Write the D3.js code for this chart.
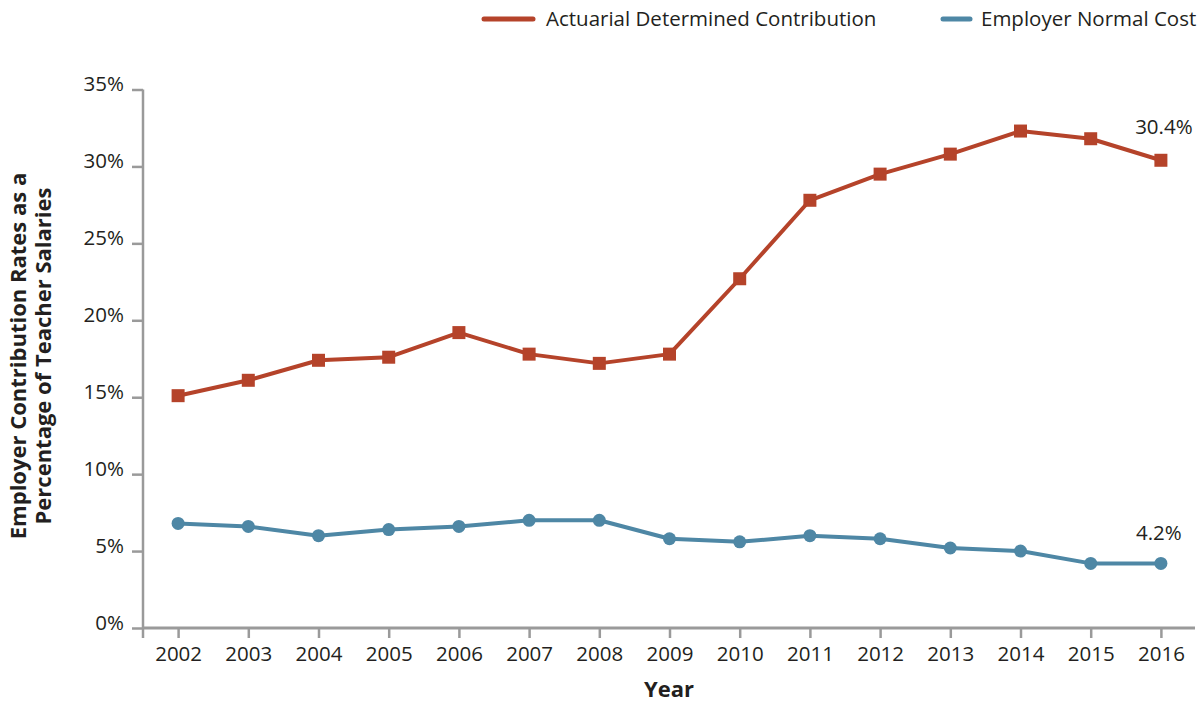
<!DOCTYPE html>
<html>
<head>
<meta charset="utf-8">
<script src="https://cdn.jsdelivr.net/npm/d3@7"></script>
<style>
  html, body { margin: 0; padding: 0; background: #fff; }
  svg { display: block; font-family: "Open Sans", "Noto Sans", sans-serif; }
</style>
</head>
<body>
<svg id="chart" width="1204" height="702"></svg>
<script>
// Employer contribution rates, % of teacher salaries
const years = [2002, 2003, 2004, 2005, 2006, 2007, 2008, 2009, 2010, 2011, 2012, 2013, 2014, 2015, 2016];
const adcValues = [15.1, 16.1, 17.4, 17.6, 19.2, 17.8, 17.2, 17.8, 22.7, 27.8, 29.5, 30.8, 32.3, 31.8, 30.4];
const normalCostValues = [6.8, 6.6, 6.0, 6.4, 6.6, 7.0, 7.0, 5.8, 5.6, 6.0, 5.8, 5.2, 5.0, 4.2, 4.2];
const yTicks = [0, 5, 10, 15, 20, 25, 30, 35];
const seriesNames = ["Actuarial Determined Contribution", "Employer Normal Cost"];

const RED = "#b5432a";
const BLUE = "#4e87a5";
const AXIS = "#9a9a9a";

const svg = d3.select("#chart");

const x = d3.scalePoint()
  .domain(years)
  .range([143, 1196])
  .padding(0.5);

const y = d3.scaleLinear()
  .domain([0, 35])
  .range([628, 89.5]);

// Y axis
const yAxis = svg.append("g")
  .attr("transform", "translate(143,0)")
  .call(d3.axisLeft(y).tickValues(yTicks).tickSize(11).tickFormat(d => d + "%"));
yAxis.select(".domain").remove();
yAxis.selectAll(".tick line").attr("stroke", AXIS).attr("stroke-width", 2.5);
yAxis.selectAll(".tick text")
  .attr("x", -19).attr("dy", null).attr("y", 1)
  .attr("font-size", 20.5).attr("fill", "#231f20")
  .attr("font-family", "'Open Sans', sans-serif");
yAxis.append("line")
  .attr("x1", 0).attr("x2", 0)
  .attr("y1", y(35)).attr("y2", 638)
  .attr("stroke", AXIS).attr("stroke-width", 2.5);

// X axis
const xAxis = svg.append("g")
  .attr("transform", "translate(0,628)")
  .call(d3.axisBottom(x).tickSize(10).tickPadding(8));
xAxis.select(".domain").remove();
xAxis.append("line")
  .attr("x1", 142).attr("x2", 1195)
  .attr("y1", 0).attr("y2", 0)
  .attr("stroke", AXIS).attr("stroke-width", 3);
xAxis.selectAll(".tick line").attr("stroke", AXIS).attr("stroke-width", 2.5);
xAxis.selectAll(".tick text")
  .attr("font-size", 20.5).attr("fill", "#231f20")
  .attr("font-family", "'Open Sans', sans-serif");

// Axis titles
svg.append("text")
  .attr("x", 669).attr("y", 697)
  .attr("text-anchor", "middle")
  .attr("font-size", 22).attr("font-weight", "bold").attr("fill", "#231f20")
  .text("Year");

const yTitle = svg.append("text")
  .attr("transform", "translate(0,356) rotate(-90)")
  .attr("text-anchor", "middle")
  .attr("font-size", 22).attr("font-weight", "bold").attr("fill", "#231f20");
yTitle.append("tspan").attr("x", 0).attr("y", 26).text("Employer Contribution Rates as a");
yTitle.append("tspan").attr("x", 0).attr("y", 51).text("Percentage of Teacher Salaries");

// Lines
const line = d3.line()
  .x((d, i) => x(years[i]))
  .y(d => y(d));

svg.append("path")
  .datum(normalCostValues)
  .attr("d", line)
  .attr("fill", "none").attr("stroke", BLUE).attr("stroke-width", 4)
  .attr("stroke-linejoin", "round");

svg.append("path")
  .datum(adcValues)
  .attr("d", line)
  .attr("fill", "none").attr("stroke", RED).attr("stroke-width", 4)
  .attr("stroke-linejoin", "round");

// Markers
const sq = 13;
svg.append("g").selectAll("rect")
  .data(adcValues)
  .join("rect")
  .attr("x", (d, i) => x(years[i]) - sq / 2)
  .attr("y", d => y(d) - sq / 2)
  .attr("width", sq).attr("height", sq)
  .attr("fill", RED);

svg.append("g").selectAll("circle")
  .data(normalCostValues)
  .join("circle")
  .attr("cx", (d, i) => x(years[i]))
  .attr("cy", d => y(d))
  .attr("r", 6.5)
  .attr("fill", BLUE);

// End-value labels
const last = years.length - 1;
svg.append("text")
  .attr("x", x(years[last]) + 3).attr("y", y(adcValues[last]) - 26)
  .attr("text-anchor", "middle")
  .attr("font-size", 20.5).attr("fill", "#231f20")
  .text(adcValues[last].toFixed(1) + "%");
svg.append("text")
  .attr("x", x(years[last]) - 2).attr("y", y(normalCostValues[last]) - 23)
  .attr("text-anchor", "middle")
  .attr("font-size", 20.5).attr("fill", "#231f20")
  .text(normalCostValues[last].toFixed(1) + "%");

// Legend
const legend = svg.append("g").attr("font-size", 20.5).attr("fill", "#231f20");
const legendItems = [
  { name: seriesNames[0], color: RED, x1: 484, x2: 533, tx: 546 },
  { name: seriesNames[1], color: BLUE, x1: 943, x2: 970, tx: 981 }
];
legendItems.forEach(item => {
  legend.append("line")
    .attr("x1", item.x1).attr("x2", item.x2)
    .attr("y1", 19).attr("y2", 19)
    .attr("stroke", item.color).attr("stroke-width", 5)
    .attr("stroke-linecap", "round");
  legend.append("text")
    .attr("x", item.tx).attr("y", 26)
    .text(item.name);
});
</script>
</body>
</html>
